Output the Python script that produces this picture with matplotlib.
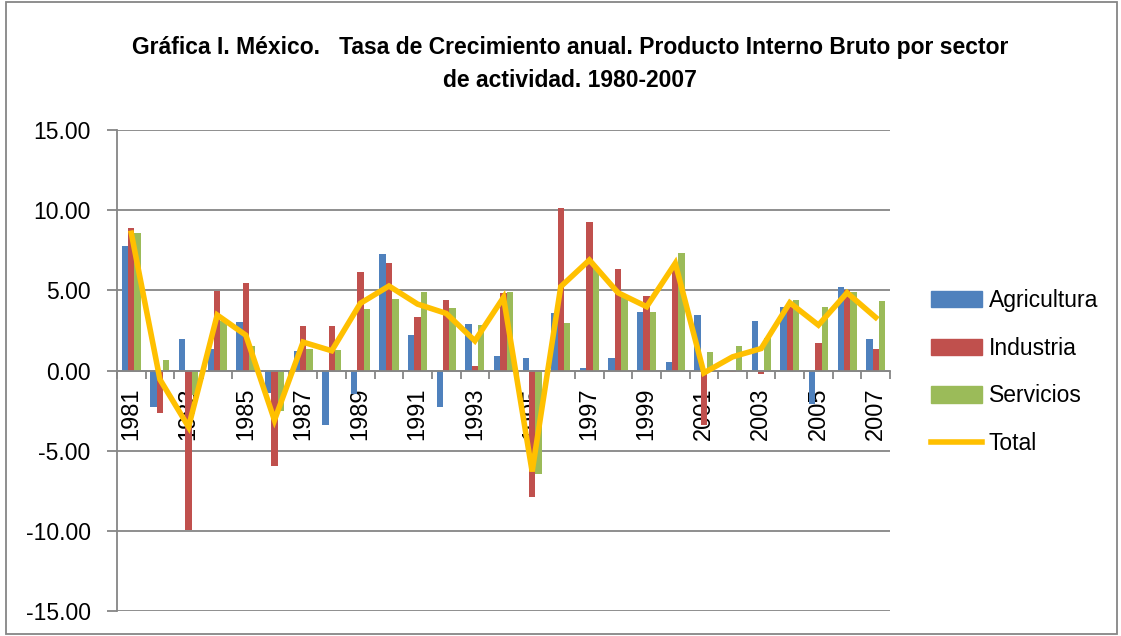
import numpy as np
import matplotlib
matplotlib.use('Agg')
import matplotlib.pyplot as plt
from matplotlib.patches import Rectangle, Patch
from matplotlib.lines import Line2D
from matplotlib.ticker import FixedLocator, FormatStrFormatter

# Datos (tasa de crecimiento anual, %)
anios = list(range(1981, 2008))
agricultura = [7.79, -2.29, 1.98, 1.37, 3.02, -1.38, 1.20, -3.42, -1.44, 7.27,
               2.23, -2.27, 2.89, 0.89, 0.81, 3.56, 0.14, 0.75, 3.62, 0.56,
               3.46, 0.00, 3.10, 3.98, -2.10, 5.23, 1.98]
industria = [8.87, -2.65, -9.95, 4.96, 5.46, -5.96, 2.79, 2.77, 6.16, 6.71,
             3.35, 4.39, 0.27, 4.81, -7.86, 10.14, 9.27, 6.31, 4.66, 6.27,
             -3.40, -0.12, -0.20, 3.98, 1.71, 5.02, 1.33]
servicios = [8.60, 0.66, -1.50, 3.10, 1.50, -2.50, 1.33, 1.27, 3.83, 4.44,
             4.89, 3.87, 2.83, 4.91, -6.48, 2.96, 6.37, 4.60, 3.62, 7.35,
             1.16, 1.54, 2.00, 4.39, 3.98, 4.89, 4.33]
total = [8.56, -0.56, -3.52, 3.46, 2.20, -3.10, 1.77, 1.23, 4.19, 5.27,
         4.14, 3.56, 1.85, 4.56, -6.30, 5.23, 6.89, 4.85, 3.98, 6.69,
         -0.15, 0.85, 1.37, 4.23, 2.83, 4.85, 3.31]

titulo = ('Gráfica I. México.   Tasa de Crecimiento anual. Producto Interno Bruto por sector\n'
          'de actividad. 1980-2007')

plt.rcParams['font.family'] = ['Liberation Sans', 'DejaVu Sans']
plt.rcParams['axes.unicode_minus'] = False

c_azul = '#4F81BD'
c_rojo = '#C0504D'
c_verde = '#9BBB59'
c_amarillo = '#FFC000'
c_gris = '#868686'

fig = plt.figure(figsize=(11.21, 6.36), dpi=100)
ax = fig.add_axes([117 / 1121, 25 / 636, 773 / 1121, 481 / 636])

x = np.arange(len(anios))
w = 1 / 4.5
ax.bar(x - w, agricultura, w, color=c_azul, zorder=2)
ax.bar(x, industria, w, color=c_rojo, zorder=2)
ax.bar(x + w, servicios, w, color=c_verde, zorder=2)
ax.plot(x, total, color=c_amarillo, lw=4, zorder=3, solid_joinstyle='miter')

ax.set_xlim(-0.5, len(anios) - 0.5)
ax.set_ylim(-15, 15)
ax.set_yticks(np.arange(-15, 16, 5))
ax.yaxis.set_major_formatter(FormatStrFormatter('%.2f'))
ax.grid(axis='y', color=c_gris, lw=1.3, zorder=0)

for s in ['top', 'right']:
    ax.spines[s].set_visible(False)
ax.spines['left'].set_color(c_gris)
ax.spines['left'].set_linewidth(1.3)
ax.spines['bottom'].set_position(('data', 0))
ax.spines['bottom'].set_color(c_gris)
ax.spines['bottom'].set_linewidth(1.3)
ax.spines['bottom'].set_zorder(2.5)

# marcas entre categorías, etiquetas cada dos años
ax.xaxis.set_major_locator(FixedLocator(np.arange(-0.5, len(anios), 1)))
ax.xaxis.set_major_formatter(plt.NullFormatter())
ax.xaxis.set_minor_locator(FixedLocator(x[::2]))
ax.set_xticklabels([str(a) for a in anios[::2]], minor=True, rotation=90,
                   fontsize=17, va='top')
ax.tick_params(axis='x', which='major', length=6, width=1.3, color=c_gris)
ax.tick_params(axis='x', which='minor', length=0, pad=12)
ax.tick_params(axis='y', length=7, width=1.3, color=c_gris, pad=12, labelsize=16.5)

fig.text(570 / 1121, 1 - 64 / 636, titulo, ha='center', va='center',
         fontsize=16.5, fontweight='bold', linespacing=1.55)

handles = [Patch(color=c_azul), Patch(color=c_rojo), Patch(color=c_verde),
           Line2D([], [], color=c_amarillo, lw=4)]
fig.legend(handles, ['Agricultura', 'Industria', 'Servicios', 'Total'],
           loc='upper left', bbox_to_anchor=(920 / 1121, 1 - 278 / 636),
           frameon=False, fontsize=16.5, handlelength=2.2, handletextpad=0.3,
           labelspacing=1.07, borderpad=0)

fig.patches.append(Rectangle((6 / 1121, 2 / 636), 1111 / 1121, 632 / 636,
                             transform=fig.transFigure, fill=False,
                             edgecolor=c_gris, lw=1.3))

fig.savefig('out.png', dpi=100)
